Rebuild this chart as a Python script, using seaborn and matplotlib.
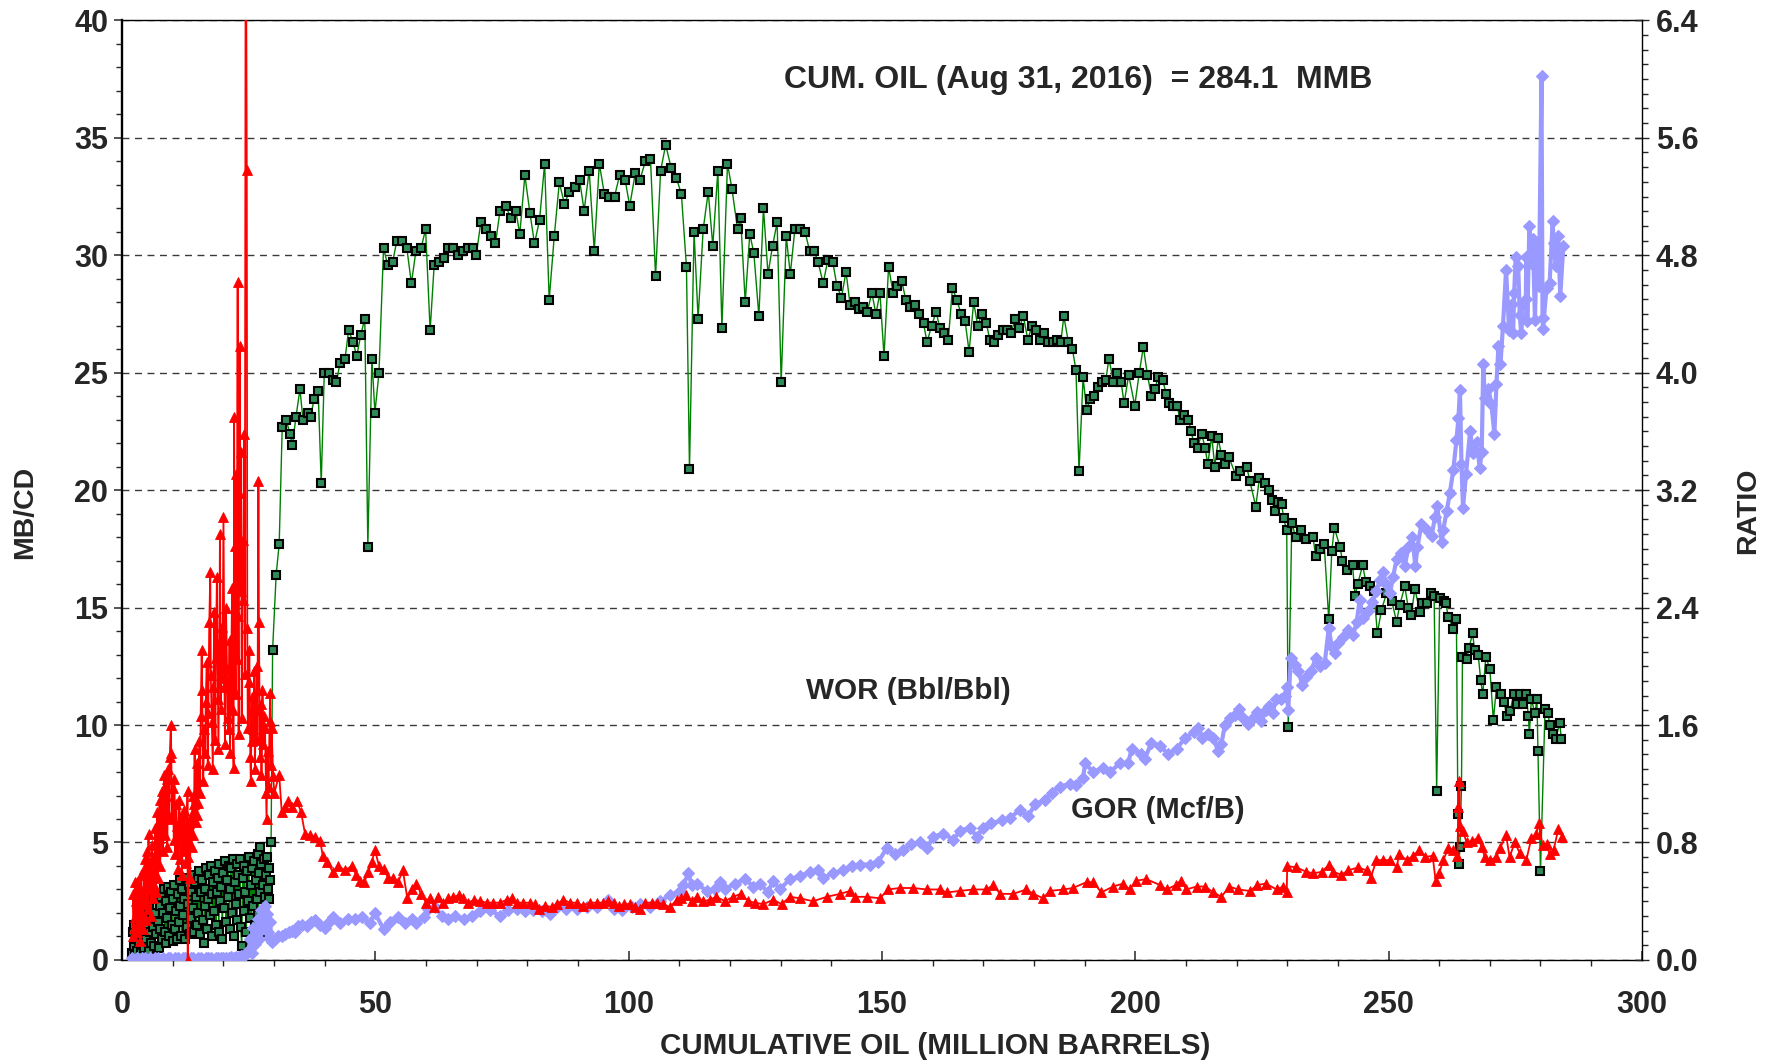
import matplotlib
matplotlib.use('Agg')
import matplotlib.pyplot as plt
from matplotlib.ticker import MultipleLocator, FormatStrFormatter
import seaborn as sns

sns.set_style('ticks')
plt.rcParams['font.family'] = ['Liberation Sans', 'DejaVu Sans']
plt.rcParams['font.weight'] = 'bold'

# oil rate, MB/CD (left axis) -- (cum oil MMB, rate)
oil_early = [
    (2.0, 0.3), (2.1, 1.2), (2.3, 0.6), (2.4, 1.5), (2.6, 0.2), (2.7, 0.9), (2.9, 1.4), (3.0, 0.4),
    (3.2, 1.1), (3.4, 0.7), (3.5, 1.6), (3.7, 0.3), (3.8, 1.3), (4.0, 0.8), (4.2, 1.9), (4.3, 0.5),
    (4.5, 1.5), (4.7, 2.1), (4.8, 0.9), (5.0, 1.7), (5.2, 0.4), (5.3, 2.2), (5.5, 1.2), (5.7, 0.7),
    (5.8, 1.9), (6.0, 1.4), (6.2, 2.6), (6.3, 0.6), (6.5, 2.0), (6.7, 1.1), (6.9, 2.8), (7.0, 1.6),
    (7.2, 0.5), (7.4, 2.3), (7.5, 1.3), (7.7, 2.7), (7.9, 0.9), (8.0, 2.0), (8.2, 3.0), (8.4, 1.2),
    (8.6, 2.5), (8.7, 0.7), (8.9, 1.8), (9.1, 3.1), (9.3, 1.0), (9.4, 2.2), (9.6, 2.9), (9.8, 1.5),
    (10.0, 0.8), (10.1, 2.6), (10.3, 3.2), (10.5, 1.3), (10.7, 2.1), (10.8, 0.9), (11.0, 2.8),
    (11.2, 1.6), (11.4, 3.4), (11.5, 2.3), (11.7, 1.0), (11.9, 3.0), (12.1, 1.9), (12.2, 2.6),
    (12.4, 0.9), (12.6, 3.5), (12.8, 1.4), (12.9, 2.4), (13.1, 3.2), (13.3, 1.1), (13.5, 2.9),
    (13.6, 1.8), (13.8, 3.6), (14.0, 2.2), (14.2, 1.2), (14.3, 3.3), (14.5, 2.7), (14.7, 1.5),
    (14.9, 3.5), (15.0, 2.0), (15.2, 3.8), (15.4, 1.1), (15.6, 2.9), (15.7, 3.4), (15.9, 1.7),
    (16.1, 0.7), (16.3, 3.0), (16.4, 2.3), (16.6, 3.9), (16.8, 1.3), (17.0, 2.6), (17.1, 3.6),
    (17.3, 1.9), (17.5, 4.0), (17.7, 2.8), (17.8, 1.0), (18.0, 3.3), (18.2, 2.1), (18.4, 3.8),
    (18.5, 1.5), (18.7, 2.9), (18.9, 3.5), (19.1, 1.2), (19.2, 4.1), (19.4, 2.5), (19.6, 3.1),
    (19.8, 0.9), (19.9, 3.7), (20.1, 2.2), (20.3, 4.2), (20.5, 1.6), (20.6, 3.4), (20.8, 2.7),
    (21.0, 4.0), (21.2, 1.3), (21.3, 3.0), (21.5, 3.9), (21.7, 2.0), (21.9, 4.3), (22.0, 1.0),
    (22.2, 3.3), (22.4, 2.4), (22.6, 4.1), (22.7, 1.7), (22.9, 3.6), (23.1, 2.8), (23.3, 4.3),
    (23.4, 1.4), (23.6, 0.6), (23.8, 3.5), (24.0, 2.1), (24.1, 4.0), (24.3, 2.9), (24.5, 1.2),
    (24.7, 3.8), (24.8, 2.5), (25.0, 4.4), (25.2, 1.8), (25.4, 3.2), (25.5, 0.8), (25.7, 3.9),
    (25.9, 2.3), (26.1, 4.2), (26.2, 1.5), (26.4, 3.4), (26.6, 2.6), (26.8, 4.5), (26.9, 1.9),
    (27.1, 3.7), (27.2, 4.8), (27.3, 2.9), (27.5, 4.1), (27.6, 1.2), (27.8, 3.2), (28.0, 4.3),
    (28.2, 2.7), (28.3, 3.6), (28.5, 4.4), (28.7, 3.0), (28.9, 3.9), (29.0, 2.6), (29.2, 3.4),
    (29.4, 5.0), (29.7, 13.2),
]
oil_main = [
    (30.4, 16.4), (31.0, 17.7), (31.6, 22.7), (32.4, 23.0), (33.1, 22.4), (33.6, 21.9), (34.3, 23.1),
    (35.1, 24.3), (35.7, 23.0), (36.6, 23.3), (37.2, 23.1), (37.9, 23.9), (38.7, 24.2), (39.3, 20.3),
    (39.9, 25.0), (40.9, 25.0), (41.6, 24.7), (42.3, 24.6), (43.0, 25.4), (44.0, 25.6), (44.7, 26.8),
    (45.6, 26.3), (46.3, 25.7), (47.1, 26.6), (47.9, 27.3), (48.5, 17.6), (49.3, 25.6), (49.9, 23.3),
    (50.7, 25.0), (51.6, 30.3), (52.4, 29.6), (53.4, 29.7), (54.2, 30.6), (55.3, 30.6), (56.2, 30.3),
    (57.1, 28.8), (58.0, 30.2), (59.0, 30.3), (59.9, 31.1), (60.8, 26.8), (61.6, 29.6), (62.6, 29.7),
    (63.5, 29.9), (64.3, 30.3), (65.4, 30.3), (66.3, 30.0), (67.3, 30.2), (68.2, 30.3), (69.2, 30.3),
    (69.9, 30.0), (70.8, 31.4), (71.9, 31.1), (72.9, 30.8), (73.7, 30.5), (74.6, 31.9), (75.7, 32.1),
    (76.7, 31.6), (77.7, 31.9), (78.5, 30.9), (79.5, 33.4), (80.5, 31.8), (81.4, 30.5), (82.4, 31.5),
    (83.4, 33.9), (84.3, 28.1), (85.3, 30.8), (86.3, 33.1), (87.3, 32.2), (88.3, 32.7), (89.3, 32.9),
    (90.3, 33.2), (91.2, 31.9), (92.2, 33.6), (93.2, 30.2), (94.2, 33.9), (95.2, 32.6), (96.2, 32.5),
    (97.2, 32.5), (98.2, 33.4), (99.3, 33.2), (100.2, 32.1), (101.3, 33.5), (102.2, 33.2), (103.3, 34.0),
    (104.3, 34.1), (105.3, 29.1), (106.3, 33.6), (107.3, 34.7), (108.4, 33.7), (109.4, 33.3),
    (110.4, 32.6), (111.4, 29.5), (112.0, 20.9), (112.9, 31.0), (113.7, 27.3), (114.7, 31.1),
    (115.7, 32.7), (116.6, 30.4), (117.6, 33.6), (118.4, 26.9), (119.5, 33.9), (120.4, 32.8),
    (121.5, 31.1), (122.1, 31.6), (123.0, 28.0), (123.9, 30.9), (124.7, 30.1), (125.7, 27.4),
    (126.6, 32.0), (127.5, 29.2), (128.4, 30.4), (129.3, 31.4), (130.1, 24.6), (131.1, 30.8),
    (131.9, 29.2), (132.8, 31.1), (133.8, 31.1), (134.8, 31.0), (135.7, 30.2), (136.6, 30.2),
    (137.4, 29.7), (138.4, 28.8), (139.3, 29.8), (140.3, 29.7), (141.1, 28.7), (142.0, 28.2),
    (142.9, 29.3), (143.7, 27.9), (144.6, 28.0), (145.5, 27.7), (146.3, 27.8), (147.1, 27.6),
    (148.0, 28.4), (148.8, 27.5), (149.6, 28.4), (150.4, 25.7), (151.3, 29.5), (152.2, 28.4),
    (153.0, 28.7), (153.9, 28.9), (154.7, 28.1), (155.6, 27.8), (156.5, 27.9), (157.4, 27.5),
    (158.2, 27.1), (158.9, 26.3), (159.8, 27.0), (160.7, 27.6), (161.4, 26.9), (162.3, 26.7),
    (163.1, 26.4), (163.9, 28.6), (164.8, 28.1), (165.6, 27.5), (166.4, 27.2), (167.2, 25.9),
    (168.1, 28.0), (168.9, 27.0), (169.7, 27.5), (170.6, 27.1), (171.3, 26.4), (172.2, 26.3),
    (173.0, 26.6), (173.8, 26.8), (174.6, 26.8), (175.5, 26.7), (176.3, 27.3), (177.1, 26.9),
    (177.9, 27.4), (178.8, 26.4), (179.6, 27.0), (180.4, 26.8), (181.2, 26.4), (182.0, 26.7),
    (182.8, 26.3), (183.7, 26.3), (184.5, 26.4), (185.3, 26.3), (185.9, 27.4), (186.8, 26.3),
    (187.6, 26.0), (188.3, 25.1), (188.9, 20.8), (189.7, 24.8), (190.4, 23.4), (191.1, 23.9),
    (191.9, 24.0), (192.7, 24.4), (193.5, 24.6), (194.2, 24.7), (194.8, 25.6), (195.7, 24.6),
    (196.4, 25.0), (197.2, 24.6), (197.8, 23.7), (198.7, 24.9), (199.9, 23.6), (200.8, 25.0),
    (201.6, 26.1), (202.4, 24.9), (203.2, 24.0), (203.9, 24.3), (204.5, 24.8), (205.4, 24.7),
    (206.1, 24.1), (206.7, 23.7), (207.5, 23.6), (208.3, 23.6), (208.8, 23.0), (209.6, 23.2),
    (210.5, 23.0), (211.0, 22.5), (211.6, 22.0), (212.3, 21.8), (213.1, 22.4), (213.8, 21.8),
    (214.3, 21.1), (215.1, 22.3), (215.7, 21.0), (216.4, 22.2), (217.0, 21.5), (217.7, 21.1),
    (218.5, 21.4), (219.9, 20.6), (220.7, 20.8), (222.0, 21.0), (222.6, 20.4), (223.8, 19.3),
    (224.5, 20.5), (225.6, 20.3), (226.5, 20.0), (226.9, 19.6), (227.6, 19.1), (228.2, 19.5),
    (228.9, 19.4), (229.3, 18.8), (229.9, 18.3), (230.2, 9.9), (230.9, 18.6), (231.7, 18.0),
    (232.8, 18.3), (233.8, 17.9), (235.1, 18.0), (235.6, 17.2), (236.5, 17.5), (237.3, 17.7),
    (238.2, 14.5), (238.8, 17.4), (239.3, 18.4), (240.4, 17.6), (240.9, 17.0), (241.8, 16.6),
    (242.9, 16.8), (243.4, 15.5), (243.9, 16.0), (244.9, 16.8), (245.5, 16.1), (246.3, 15.9),
    (247.1, 15.7), (247.8, 13.9), (248.6, 14.9), (249.6, 15.6), (250.6, 15.3), (251.6, 14.4),
    (252.2, 15.1), (253.2, 15.9), (253.9, 15.0), (254.5, 14.7), (255.2, 15.8), (256.2, 14.8),
    (256.7, 15.2), (257.5, 15.2), (258.4, 15.6), (259.0, 15.5), (259.5, 7.2), (260.1, 15.4),
    (260.9, 15.3), (261.3, 15.2), (261.8, 14.6), (262.8, 14.1), (263.4, 14.5), (263.7, 6.2),
    (263.9, 4.1), (264.1, 4.8), (264.4, 7.4), (264.6, 12.9), (265.4, 12.8), (265.9, 13.3),
    (266.6, 13.9), (267.0, 13.2), (267.7, 13.0), (268.2, 11.9), (268.6, 11.3), (269.2, 12.9),
    (270.0, 12.4), (270.7, 10.2), (271.3, 11.6), (272.2, 11.3), (272.8, 11.0), (273.3, 10.4),
    (274.0, 10.6), (274.7, 11.3), (275.3, 10.9), (275.9, 11.3), (276.6, 10.9), (277.2, 11.3),
    (277.6, 10.4), (277.8, 9.6), (278.2, 11.1), (278.9, 10.5), (279.3, 11.1), (279.5, 8.9),
    (280.0, 3.8), (280.9, 10.7), (281.5, 10.5), (281.8, 10.0), (282.5, 9.6), (283.0, 9.4),
    (283.8, 10.1), (284.1, 9.4),
]

# GOR, Mcf/B (right axis)
gor_early = [
    (2.1, 0.16), (2.2, 0.45), (2.4, 0.22), (2.5, 0.53), (2.6, 0.29), (2.8, 0.40), (2.9, 0.53),
    (3.0, 0.19), (3.1, 0.35), (3.3, 0.48), (3.4, 0.26), (3.5, 0.13), (3.6, 0.43), (3.8, 0.58),
    (3.9, 0.30), (4.0, 0.46), (4.2, 0.21), (4.3, 0.62), (4.4, 0.38), (4.6, 0.69), (4.7, 0.27),
    (4.8, 0.51), (5.0, 0.74), (5.1, 0.35), (5.2, 0.86), (5.3, 0.48), (5.5, 0.67), (5.6, 0.30),
    (5.7, 0.59), (5.9, 0.78), (6.0, 0.42), (6.2, 0.70), (6.3, 0.51), (6.5, 0.90), (6.6, 0.46),
    (6.8, 0.75), (6.9, 1.01), (7.1, 0.56), (7.2, 0.83), (7.4, 1.09), (7.5, 0.64), (7.7, 0.94),
    (7.8, 1.15), (8.0, 0.74), (8.1, 1.04), (8.3, 1.26), (8.5, 0.85), (8.6, 1.12), (8.8, 1.23),
    (8.9, 0.77), (9.1, 1.30), (9.3, 0.98), (9.4, 1.38), (9.6, 1.60), (9.7, 1.41), (9.8, 0.96),
    (10.0, 1.17), (10.2, 0.82), (10.3, 1.23), (10.5, 0.72), (10.7, 1.06), (10.8, 0.91), (11.0, 0.62),
    (11.1, 0.86), (11.3, 1.09), (11.5, 0.69), (11.7, 0.94), (11.8, 0.58), (12.0, 0.99), (12.2, 0.74),
    (12.3, 1.02), (12.5, 0.80), (12.7, 0.66), (12.9, 1.15), (12.95, 0.0), (13.0, 0.70), (13.2, 0.93),
    (13.4, 0.56), (13.5, 0.98), (13.7, 0.77), (13.9, 1.12), (14.0, 0.85), (14.2, 1.06), (14.3, 1.44),
    (14.5, 0.94), (14.7, 1.34), (14.8, 0.99), (15.0, 1.07), (15.2, 1.49), (15.4, 1.14), (15.5, 1.66),
    (15.7, 2.11), (15.8, 1.84), (16.0, 1.22), (16.2, 1.57), (16.4, 1.41), (16.5, 1.76), (16.7, 2.03),
    (16.9, 1.33), (17.0, 1.68), (17.2, 2.30), (17.4, 2.64), (17.5, 1.94), (17.7, 1.62), (17.9, 1.30),
    (18.0, 1.86), (18.2, 2.37), (18.4, 1.50), (18.5, 2.06), (18.7, 2.61), (18.9, 1.78), (19.0, 1.44),
    (19.2, 2.16), (19.3, 2.90), (19.5, 1.71), (19.7, 2.27), (19.8, 1.92), (20.0, 3.02), (20.2, 1.86),
    (20.3, 1.47), (20.5, 2.40), (20.7, 1.98), (20.8, 1.65), (21.0, 1.57), (21.2, 2.18), (21.3, 1.41),
    (21.5, 1.90), (21.7, 2.53), (21.8, 1.70), (22.0, 1.31), (22.1, 3.70), (22.2, 2.82), (22.4, 1.81),
    (22.5, 3.31), (22.6, 2.05), (22.8, 4.62), (22.9, 2.34), (23.0, 1.54), (23.1, 3.18), (23.2, 4.18),
    (23.4, 2.51), (23.5, 3.46), (23.6, 1.65), (23.8, 2.86), (23.9, 2.45), (24.1, 3.58), (24.2, 1.95),
    (24.4, 7.68), (24.6, 5.38), (24.7, 2.26), (24.8, 1.58), (25.0, 1.89), (25.1, 2.11), (25.3, 1.38),
    (25.4, 1.22), (25.6, 1.79), (25.7, 1.49), (25.9, 1.57), (26.1, 1.97), (26.2, 1.30), (26.4, 1.70),
    (26.6, 2.00), (26.7, 1.50), (26.9, 3.26), (27.0, 2.30), (27.2, 1.38), (27.4, 1.74), (27.5, 1.26),
    (27.7, 1.84), (27.9, 1.47), (28.0, 1.66), (28.2, 1.58), (28.4, 1.14), (28.5, 0.96), (28.7, 1.42),
    (28.9, 1.18), (29.1, 1.63), (29.2, 1.82), (29.4, 1.33), (29.5, 1.58), (29.8, 1.25), (30.05, 1.14),
]
gor_main = [
    (31.0, 1.26), (31.5, 1.01), (32.1, 1.04), (32.7, 1.08), (33.5, 1.04), (34.5, 1.08), (35.3, 1.01),
    (36.1, 0.86), (37.0, 0.85), (38.1, 0.84), (39.1, 0.81), (39.6, 0.71), (40.4, 0.67), (41.6, 0.60),
    (42.7, 0.64), (44.0, 0.61), (45.3, 0.64), (46.2, 0.58), (47.0, 0.54), (47.8, 0.53), (48.6, 0.60),
    (49.3, 0.67), (49.9, 0.75), (50.7, 0.64), (51.6, 0.62), (52.5, 0.56), (53.5, 0.56), (54.5, 0.53),
    (55.4, 0.61), (56.3, 0.42), (57.2, 0.48), (58.1, 0.52), (59.0, 0.45), (60.0, 0.39), (60.8, 0.42),
    (61.6, 0.36), (62.4, 0.43), (63.4, 0.39), (64.4, 0.42), (65.4, 0.43), (66.4, 0.44), (67.2, 0.42),
    (68.3, 0.39), (69.5, 0.41), (70.6, 0.40), (72.0, 0.39), (73.3, 0.39), (74.6, 0.39), (75.9, 0.41),
    (76.9, 0.42), (77.9, 0.39), (79.2, 0.39), (80.5, 0.39), (81.5, 0.38), (82.3, 0.35), (83.5, 0.37),
    (84.8, 0.36), (85.8, 0.38), (87.1, 0.41), (88.4, 0.39), (89.7, 0.39), (91.0, 0.37), (92.3, 0.39),
    (93.7, 0.39), (95.0, 0.39), (96.0, 0.40), (97.0, 0.39), (98.0, 0.37), (99.1, 0.38), (100.2, 0.38),
    (101.2, 0.36), (102.2, 0.35), (103.2, 0.39), (104.5, 0.39), (105.6, 0.39), (106.8, 0.38),
    (108.1, 0.36), (109.5, 0.41), (110.4, 0.42), (111.4, 0.44), (112.4, 0.40), (113.4, 0.43),
    (114.7, 0.40), (116.0, 0.41), (117.3, 0.43), (119.0, 0.40), (120.6, 0.43), (122.1, 0.45),
    (123.6, 0.40), (124.9, 0.39), (126.6, 0.38), (128.5, 0.41), (130.2, 0.38), (131.8, 0.43),
    (133.8, 0.42), (136.4, 0.40), (139.1, 0.43), (141.7, 0.45), (143.7, 0.47), (144.7, 0.43),
    (147.0, 0.43), (149.6, 0.42), (151.2, 0.48), (153.5, 0.49), (156.2, 0.49), (158.8, 0.48),
    (161.4, 0.48), (162.8, 0.46), (165.4, 0.47), (168.0, 0.48), (170.6, 0.48), (172.0, 0.51),
    (173.3, 0.45), (175.9, 0.45), (178.5, 0.48), (179.9, 0.45), (181.8, 0.42), (183.1, 0.47),
    (185.8, 0.48), (187.7, 0.49), (190.4, 0.53), (191.7, 0.53), (193.3, 0.46), (195.6, 0.50),
    (197.6, 0.52), (198.9, 0.48), (200.2, 0.54), (202.2, 0.55), (204.9, 0.51), (206.2, 0.48),
    (208.0, 0.51), (209.0, 0.54), (210.1, 0.48), (212.1, 0.50), (213.8, 0.50), (215.4, 0.46),
    (217.0, 0.43), (218.6, 0.50), (220.3, 0.48), (222.6, 0.47), (224.1, 0.51), (225.8, 0.52),
    (227.9, 0.48), (229.2, 0.50), (229.9, 0.46), (230.0, 0.64), (231.8, 0.63), (233.8, 0.60),
    (235.1, 0.59), (236.8, 0.60), (238.3, 0.65), (239.1, 0.60), (240.7, 0.58), (242.0, 0.61),
    (244.0, 0.63), (245.7, 0.61), (246.5, 0.56), (247.6, 0.68), (249.0, 0.68), (250.3, 0.68),
    (251.6, 0.63), (252.1, 0.72), (253.6, 0.68), (254.9, 0.71), (256.1, 0.75), (257.2, 0.70),
    (258.7, 0.71), (259.3, 0.54), (260.0, 0.59), (260.8, 0.68), (261.8, 0.76), (262.8, 0.75),
    (263.6, 0.71), (263.8, 1.04), (264.0, 1.22), (264.1, 0.91), (264.7, 0.88), (265.4, 0.80),
    (266.4, 0.81), (267.6, 0.83), (268.4, 0.77), (269.0, 0.70), (270.0, 0.68), (271.3, 0.70),
    (272.0, 0.76), (273.2, 0.85), (273.9, 0.70), (274.9, 0.80), (275.9, 0.73), (277.2, 0.68),
    (278.2, 0.83), (279.2, 0.86), (279.7, 0.93), (280.4, 0.78), (281.2, 0.79), (281.8, 0.72),
    (282.6, 0.75), (283.5, 0.89), (284.3, 0.84),
]

# WOR, Bbl/Bbl (right axis)
wor_early = [
    (2.0, 0.01), (2.5, 0.00), (3.0, 0.01), (3.5, 0.00), (4.0, 0.01), (4.5, 0.01), (5.0, 0.00),
    (5.5, 0.01), (6.0, 0.00), (6.5, 0.01), (7.0, 0.01), (7.5, 0.00), (8.0, 0.01), (8.5, 0.00),
    (9.0, 0.01), (9.5, 0.01), (10.0, 0.00), (10.5, 0.01), (11.0, 0.01), (11.5, 0.00), (12.0, 0.01),
    (12.5, 0.01), (13.0, 0.00), (13.5, 0.01), (14.0, 0.01), (14.5, 0.00), (15.0, 0.01), (15.5, 0.01),
    (16.0, 0.00), (16.5, 0.01), (17.0, 0.01), (17.5, 0.01), (18.0, 0.00), (18.5, 0.01), (19.0, 0.01),
    (19.5, 0.01), (20.0, 0.01), (20.5, 0.01), (21.0, 0.01), (21.5, 0.02), (22.0, 0.01), (22.5, 0.02),
    (23.0, 0.02), (23.5, 0.03), (24.0, 0.03), (24.5, 0.05), (24.9, 0.06), (25.3, 0.14), (25.6, 0.05),
    (25.9, 0.22), (26.2, 0.11), (26.5, 0.19), (26.9, 0.28), (27.1, 0.14), (27.3, 0.24), (27.5, 0.34),
    (27.7, 0.21), (27.9, 0.35), (28.2, 0.37), (28.4, 0.24), (28.5, 0.31), (28.7, 0.19), (28.9, 0.15),
    (29.2, 0.26), (29.5, 0.12),
]
wor_main = [
    (30.2, 0.14), (30.8, 0.16), (31.5, 0.16), (32.2, 0.18), (32.9, 0.19), (33.5, 0.20), (34.2, 0.19),
    (34.8, 0.23), (35.6, 0.24), (36.4, 0.23), (37.2, 0.26), (38.1, 0.27), (39.1, 0.24), (40.0, 0.22),
    (40.8, 0.26), (41.7, 0.29), (43.0, 0.25), (44.6, 0.28), (46.0, 0.28), (47.3, 0.29), (48.9, 0.25),
    (49.9, 0.32), (51.6, 0.21), (52.9, 0.26), (54.5, 0.29), (55.8, 0.25), (57.2, 0.28), (58.1, 0.25),
    (59.5, 0.29), (60.4, 0.35), (61.8, 0.36), (63.1, 0.30), (64.4, 0.28), (65.7, 0.30), (67.4, 0.28),
    (69.0, 0.30), (70.6, 0.33), (72.6, 0.34), (74.6, 0.30), (76.2, 0.34), (77.9, 0.35), (79.5, 0.33),
    (81.2, 0.34), (82.8, 0.33), (84.5, 0.31), (85.8, 0.36), (87.7, 0.35), (89.7, 0.35), (91.7, 0.36),
    (93.7, 0.36), (96.0, 0.41), (97.0, 0.35), (98.6, 0.34), (100.6, 0.36), (102.2, 0.38), (104.2, 0.36),
    (106.2, 0.40), (108.1, 0.44), (110.1, 0.47), (110.8, 0.51), (111.8, 0.59), (112.4, 0.51),
    (113.4, 0.52), (115.4, 0.47), (117.0, 0.48), (118.0, 0.53), (119.0, 0.48), (120.9, 0.52),
    (123.0, 0.55), (124.6, 0.50), (125.9, 0.52), (127.5, 0.46), (128.5, 0.54), (129.8, 0.48),
    (131.8, 0.55), (133.8, 0.57), (135.8, 0.60), (137.4, 0.61), (138.4, 0.56), (140.4, 0.59),
    (142.4, 0.61), (144.0, 0.64), (145.6, 0.65), (147.6, 0.65), (149.3, 0.67), (150.9, 0.76),
    (152.6, 0.72), (154.2, 0.75), (155.8, 0.79), (157.5, 0.80), (158.9, 0.76), (160.1, 0.84),
    (162.1, 0.86), (164.1, 0.82), (165.4, 0.88), (167.4, 0.90), (168.7, 0.84), (170.0, 0.90),
    (171.6, 0.93), (173.6, 0.95), (175.3, 0.97), (177.2, 1.02), (178.9, 0.98), (180.2, 1.06),
    (182.2, 1.09), (183.5, 1.14), (185.1, 1.18), (187.1, 1.20), (188.4, 1.19), (189.7, 1.24),
    (190.1, 1.34), (191.7, 1.28), (193.7, 1.31), (195.0, 1.28), (197.0, 1.34), (198.6, 1.34),
    (199.3, 1.44), (201.2, 1.40), (201.9, 1.37), (203.2, 1.48), (204.9, 1.46), (206.5, 1.40),
    (208.2, 1.44), (209.8, 1.51), (211.5, 1.55), (212.4, 1.58), (213.1, 1.51), (214.4, 1.54),
    (215.4, 1.51), (216.4, 1.42), (217.0, 1.47), (217.7, 1.60), (218.7, 1.65), (219.7, 1.67),
    (220.5, 1.71), (221.3, 1.65), (222.3, 1.61), (223.3, 1.65), (224.1, 1.69), (224.9, 1.63),
    (225.9, 1.70), (226.5, 1.73), (227.1, 1.68), (227.8, 1.78), (228.7, 1.78), (229.5, 1.80),
    (229.9, 1.86), (230.2, 1.70), (230.7, 2.06), (231.5, 2.01), (232.2, 1.97), (233.0, 1.87),
    (233.8, 1.93), (234.7, 1.97), (235.7, 2.06), (236.5, 2.00), (237.4, 2.02), (238.2, 2.26),
    (238.8, 2.13), (239.4, 2.09), (240.1, 2.16), (241.1, 2.20), (242.0, 2.25), (243.0, 2.21),
    (243.7, 2.30), (244.3, 2.45), (245.0, 2.33), (246.0, 2.38), (246.8, 2.44), (247.6, 2.51),
    (248.3, 2.59), (248.9, 2.64), (249.6, 2.56), (250.3, 2.50), (250.9, 2.61), (251.6, 2.73),
    (252.4, 2.77), (253.2, 2.68), (253.9, 2.81), (254.7, 2.88), (255.3, 2.68), (255.7, 2.81),
    (256.5, 2.97), (257.5, 2.93), (258.5, 2.89), (259.2, 3.02), (259.6, 3.09), (260.5, 2.85),
    (260.8, 2.93), (261.5, 3.06), (262.1, 3.18), (262.8, 3.34), (263.4, 3.54), (263.8, 3.69),
    (264.1, 3.88), (264.4, 3.38), (264.7, 3.08), (265.3, 3.31), (266.1, 3.60), (266.7, 3.45),
    (267.4, 3.53), (268.0, 3.35), (268.4, 3.46), (268.7, 4.06), (269.0, 3.83), (269.7, 3.89),
    (270.3, 3.79), (270.9, 3.58), (271.3, 3.92), (271.7, 4.18), (272.1, 4.06), (272.6, 4.32),
    (273.2, 4.70), (273.8, 4.29), (274.3, 4.47), (274.6, 4.27), (274.8, 4.54), (275.1, 4.79),
    (275.6, 4.73), (275.9, 4.39), (276.2, 4.27), (276.6, 4.47), (277.1, 4.50), (277.2, 4.79),
    (277.4, 4.35), (277.8, 5.00), (278.2, 4.75), (278.5, 4.91), (278.9, 4.36), (279.3, 4.88),
    (279.7, 4.59), (280.2, 6.02), (280.4, 4.37), (280.5, 4.30), (281.2, 4.58), (281.8, 4.61),
    (282.4, 5.03), (282.6, 4.88), (283.0, 4.73), (283.5, 4.93), (283.9, 4.52), (284.5, 4.86),
]

oil_x, oil_y = zip(*(oil_early + oil_main))
gor_x, gor_y = zip(*(gor_early + gor_main))
wor_x, wor_y = zip(*(wor_early + wor_main))

fig = plt.figure(figsize=(17.73, 10.64), dpi=100)
ax = fig.add_axes([0.0689, 0.0978, 0.8571, 0.8831])
ax2 = ax.twinx()

sns.lineplot(x=list(oil_x), y=list(oil_y), ax=ax, sort=False, estimator=None,
             color='#008000', linewidth=1.0, marker='s', markersize=6.2,
             markerfacecolor='#2e8b57', markeredgecolor='black', markeredgewidth=1.5)
sns.lineplot(x=list(wor_x), y=list(wor_y), ax=ax2, sort=False, estimator=None,
             color='#9999ff', linewidth=3.0, marker='D', markersize=6.5,
             markerfacecolor='#9999ff', markeredgecolor='#9999ff', markeredgewidth=0.8)
sns.lineplot(x=list(gor_x), y=list(gor_y), ax=ax2, sort=False, estimator=None,
             color='#ff0000', linewidth=1.3, marker='^', markersize=7,
             markerfacecolor='#ff0000', markeredgecolor='#ff0000', markeredgewidth=0.6)

ax.set_xlim(0, 300)
ax.set_ylim(0, 40)
ax2.set_ylim(0, 6.4)

ax.xaxis.set_major_locator(MultipleLocator(50))
ax.xaxis.set_minor_locator(MultipleLocator(10))
ax.yaxis.set_major_locator(MultipleLocator(5))
ax.yaxis.set_minor_locator(MultipleLocator(1))
ax2.yaxis.set_major_locator(MultipleLocator(0.8))
ax2.yaxis.set_minor_locator(MultipleLocator(0.1))
ax2.yaxis.set_major_formatter(FormatStrFormatter('%.1f'))

ax.tick_params(axis='x', which='major', direction='in', length=6.5, width=1.1, pad=22, labelsize=22)
ax.tick_params(axis='x', which='minor', direction='out', length=4.5, width=1.0)
ax.tick_params(axis='y', which='major', direction='out', length=6, width=1.1, pad=4, labelsize=22)
ax.tick_params(axis='y', which='minor', direction='out', length=4, width=1.0)
ax2.tick_params(axis='y', which='major', direction='inout', length=10, width=1.0, pad=5, labelsize=22)
ax2.tick_params(axis='y', which='minor', direction='out', length=4.5, width=1.0)

ax.grid(axis='y', which='major', color='#3a3a3a', linestyle=(0, (5, 4)), linewidth=1.0)
ax.set_axisbelow(True)

for side in ['top', 'bottom']:
    ax.spines[side].set_linewidth(1.0)
    ax.spines[side].set_color('black')
ax.spines['left'].set_linewidth(1.7)
ax.spines['left'].set_color('black')
ax.spines['right'].set_visible(False)
for side in ['left', 'top', 'bottom']:
    ax2.spines[side].set_visible(False)
ax2.spines['right'].set_linewidth(1.0)
ax2.spines['right'].set_color('black')

ax.set_xlabel('CUMULATIVE OIL (MILLION BARRELS)', fontsize=21.3, fontweight='bold')
ax.xaxis.set_label_coords(0.535, -0.0763)
ax.set_ylabel('MB/CD', fontsize=20.5, fontweight='bold')
ax.yaxis.set_label_coords(-0.0551, 0.4765)
ax2.set_ylabel('RATIO', fontsize=20.5, fontweight='bold')
ax2.yaxis.set_label_coords(1.0617, 0.478)

ax.text(188.7, 37.45, 'CUM. OIL (Aug 31, 2016)  = 284.1  MMB', ha='center', va='center',
        fontsize=23, fontweight='bold')
ax.text(155.2, 11.46, 'WOR (Bbl/Bbl)', ha='center', va='center', fontsize=21.3, fontweight='bold')
ax.text(204.4, 6.4, 'GOR (Mcf/B)', ha='center', va='center', fontsize=21, fontweight='bold')

fig.savefig('out.png', dpi=100)
